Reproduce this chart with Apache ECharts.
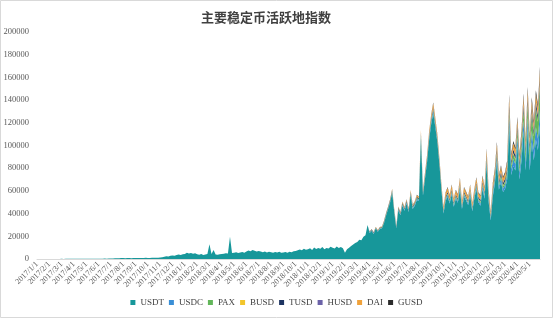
<!DOCTYPE html>
<html><head><meta charset="utf-8">
<script src="https://cdn.jsdelivr.net/npm/echarts@6/dist/echarts.min.js"></script>
<style>html,body{margin:0;padding:0;background:#fff}#c{width:553px;height:318px}</style>
</head><body><div id="c"></div>
<script>
// Categories: every 5 days (day 1,6,11,16,21,26), 2017/1 .. 2020/5
const days = [1, 6, 11, 16, 21, 26];
const categories = [];
for (let y = 2017; y <= 2020; y++) {
  for (let m = 1; m <= 12; m++) {
    if (y === 2020 && m > 5) break;
    days.forEach(d => categories.push(y + '/' + m + '/' + d));
  }
}
const yTicks = { min: 0, max: 200000, interval: 20000 };
const seriesNames = ['USDT', 'USDC', 'PAX', 'BUSD', 'TUSD', 'HUSD', 'DAI', 'GUSD'];

// USDT, full period (6 values per month)
const usdt = [
  60,70,60,80,70,90, 80,90,100,90,110,100, 120,110,130,140,120,150, 150,170,160,180,200,190,
  210,230,250,240,260,280, 300,280,320,350,330,360, 380,400,600,700,650,800, 800,750,900,850,700,900,
  900,850,800,950,900,1000, 950,900,1000,1100,1000,1200, 1300,1500,2000,2500,2200,2800, 3000,2800,3500,4000,3600,4200,
  4500,5500,4800,5200,4600,5000, 4200,3800,4400,3600,4000,4300, 13000,4500,8000,4000,3800,4200, 4400,4600,5000,4800,19600,5200,
  5500,6000,5200,5800,6200,5600, 6500,7500,6800,8000,7200,6600, 7000,6500,6000,6600,5800,6400, 6000,5500,6200,5800,6400,5600,
  5800,6200,5600,6400,6000,6800, 7000,7600,8400,7800,9000,8200, 8600,9400,8000,10200,8800,9600, 9000,10500,8500,9800,9200,10800,
  10000,9200,11000,9600,10500,9400, 5400,8500,10000,11500,12800,14000, 15000,17000,16500,19500,21000,30000,
  23000,25000,22000,27000,24000,26500, 27000,31500,38000,44000,50000,58500, 41500,27000,43000,38500,47000,42500,
  49000,41500,56500,44000,47000,52000, 51000,107000,56000,71000,85500,105000, 119000,128500,116500,103000,83500,60500,
  40000,51000,55000,49000,57000,46000, 53000,49500,62000,44000,55000,51500, 47500,56500,42000,53000,62000,50000,
  47000,62000,53000,83000,50000,34000, 55000,66000,86000,61000,68000,59000, 62000,70000,118000,74000,82000,78000,
  100000,70000,87000,113000,78000,115000, 78000,103000,87000,105000,96000,118000
];
// Other stablecoins, from 2019/4/1 onward (earlier values are zero)
const usdc = [
  300,300,400,300,400,350, 400,500,600,500,700,800, 700,600,800,700,900,800, 900,800,1000,900,1000,1100,
  1000,1500,1100,1200,1400,1500, 1600,1800,1500,1400,1200,1100, 1200,1400,1500,1300,1600,1400, 1500,1400,1800,1300,1600,1500,
  1600,1800,1500,1700,2000,1800, 2000,2500,2200,3000,2400,1800, 2800,3200,4000,3000,3500,3200, 3500,4000,7000,5000,6000,5500,
  7000,6000,7500,9000,7000,9500, 8000,10000,9000,11000,10000,13000
];
const pax = [
  200,200,300,200,300,250, 300,400,500,400,500,600, 500,400,600,500,700,600, 600,500,800,700,700,800,
  700,1200,800,900,1000,1200, 1300,1400,1200,1000,900,800, 800,900,1000,900,1100,1000, 1000,900,1200,900,1100,1000,
  1000,1200,1000,1100,1300,1200, 1300,1600,1400,2000,1500,1000, 1800,2000,2600,2000,2400,2200, 2500,3000,5000,3500,4500,4000,
  6000,5000,7000,9000,8000,11000, 10000,14000,12000,16000,15000,20000
];
const busd = [
  0,0,0,0,0,0, 0,0,0,0,0,0, 0,0,0,0,0,0, 0,0,0,0,0,0,
  0,0,0,0,0,0, 0,0,50,100,150,200, 200,250,300,250,300,300, 300,250,350,300,300,350,
  300,350,300,350,400,350, 400,450,400,500,450,350, 500,550,600,500,550,500, 600,650,900,700,800,750,
  900,800,900,1100,900,1200, 1000,1200,1100,1300,1200,1500
];
const tusd = [
  400,450,400,500,450,500, 500,600,700,650,750,900, 800,600,900,750,900,800, 900,800,1000,850,900,1000,
  900,1400,1000,1100,1200,1400, 1500,1600,1400,1300,1100,900, 1000,1200,1300,1100,1300,1100, 1200,1100,1400,1000,1200,1100,
  1100,1300,1000,1200,1400,1200, 1300,1700,1500,2500,1500,1200, 1800,2200,3000,2000,2400,2100, 2300,2600,4500,2800,3200,3000,
  3500,3000,3500,4200,3200,4500, 3500,4500,4000,4800,4300,5500
];
const husd = [
  0,0,0,0,0,0, 0,0,0,0,0,0, 0,0,0,0,0,0, 0,0,0,0,0,0,
  0,0,50,80,100,120, 150,180,160,150,130,120, 150,180,200,180,200,190, 200,190,230,180,210,200,
  200,220,190,210,240,220, 230,260,240,300,250,200, 300,350,400,320,350,330, 350,380,500,400,450,420,
  500,450,500,600,480,620, 500,600,550,650,600,700
];
const dai = [
  300,350,300,400,350,400, 400,500,600,550,650,800, 700,500,800,650,900,800, 900,800,1200,1000,1100,1300,
  1200,2500,1400,1800,2200,2800, 3000,3500,3000,2600,2200,1800, 2500,3000,3500,3000,3500,3000, 3200,3000,3800,2800,3300,3200,
  3000,3500,2800,3200,3800,3300, 3200,4000,3500,4500,3500,2500, 3500,4000,4500,3600,4000,3800, 4000,4500,6000,4500,5000,4800,
  5000,4500,5000,6000,5000,6500, 5000,6000,5500,6500,6000,7000
];
const gusd = [
  100,100,120,100,120,110, 120,150,180,160,200,250, 200,150,250,200,250,220, 250,220,300,260,280,300,
  300,600,350,400,500,600, 700,800,700,600,500,400, 500,600,700,600,700,600, 700,600,800,600,700,650,
  650,750,600,700,850,750, 800,1000,900,1500,900,700, 1200,1400,2000,1300,1500,1400, 1500,1700,3000,1800,2100,2000,
  2500,2200,2500,3000,2300,3200, 2500,3200,2900,3400,3100,3800
];

const colors = ['#17979a', '#3a8fd6', '#62b65a', '#f2c52b', '#1d3461', '#6b62a8', '#f0a23b', '#2b2b2b'];
const lead = categories.length - usdc.length;
const full = arr => new Array(lead).fill(0).concat(arr);
const seriesData = [usdt, full(usdc), full(pax), full(busd), full(tusd), full(husd), full(dai), full(gusd)];

const font = 'Liberation Serif, DejaVu Serif, serif';
const chart = echarts.init(document.getElementById('c'));
chart.setOption({
  animation: false,
  backgroundColor: '#fff',
  color: colors,
  title: {
    text: '主要稳定币活跃地指数', left: 261, top: 6, textAlign: 'center',
    textStyle: { fontFamily: 'Noto Sans CJK SC', fontSize: 13, fontWeight: 'bold', color: '#404040' }
  },
  legend: {
    bottom: 6, left: 'center', itemWidth: 5, itemHeight: 5, itemGap: 5, icon: 'rect',
    data: seriesNames,
    textStyle: { fontFamily: font, fontSize: 9, color: '#404040' }
  },
  grid: { left: 37, right: 13, top: 32, bottom: 59, containLabel: false },
  xAxis: {
    type: 'category', data: categories, boundaryGap: false,
    axisLine: { lineStyle: { color: '#d9d9d9' } },
    axisTick: { show: false },
    axisLabel: {
      rotate: 45, margin: 4, fontSize: 8, fontFamily: font, color: '#595959',
      interval: (i, v) => /\/1$/.test(v)
    }
  },
  yAxis: {
    type: 'value', min: yTicks.min, max: yTicks.max, interval: yTicks.interval,
    splitLine: { show: false }, axisLine: { show: false }, axisTick: { show: false },
    axisLabel: { fontSize: 8.5, fontFamily: font, color: '#595959', margin: 8, formatter: v => String(v) }
  },
  series: seriesNames.map((n, i) => ({
    name: n, type: 'line', stack: 'total', data: seriesData[i],
    symbol: 'none', showSymbol: false, sampling: null,
    lineStyle: { width: 0 }, areaStyle: { opacity: 1, color: colors[i] }
  })),
  graphic: [{ type: 'rect', shape: { x: 0.5, y: 0.5, width: 552, height: 317 }, style: { fill: 'none', stroke: '#d9d9d9', lineWidth: 1 }, silent: true }]
});
</script></body></html>
